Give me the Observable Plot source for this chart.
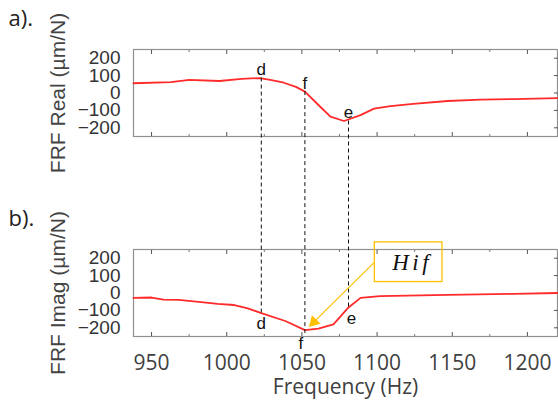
<!DOCTYPE html>
<html><head><meta charset="utf-8">
<script src="https://cdn.jsdelivr.net/npm/d3@7"></script>
<script src="https://cdn.jsdelivr.net/npm/@observablehq/plot@0.6"></script>
<style>
html,body{margin:0;padding:0;background:#fff}
#chart{width:558px;height:405px;overflow:hidden}
</style>
</head><body><div id="chart"></div>
<script>
// ---- data ----
const xDomain = [938, 1220];
const yDomain = [-250, 250];
const xTicks = [950, 1000, 1050, 1100, 1150, 1200];
const xMinorTicks = [975, 1025, 1075, 1125, 1175];
const yTicks = [-200, -100, 0, 100, 200];
const panels = ["a", "b"];
const panelTags = ["a).", "b)."];
const panelTitles = ["FRF Real (µm/N)", "FRF Imag (µm/N)"];
const xTitle = "Frequency (Hz)";

const realFreq = [938, 963, 975, 995, 1010, 1022, 1029, 1038, 1046, 1052, 1061, 1069, 1078, 1089, 1098, 1109, 1124, 1147, 1169, 1191, 1220];
const realVal  = [56, 63, 75, 69, 81, 86, 75, 59, 35, 8, -69, -136, -161, -127, -90, -75, -62, -46, -38, -35, -29];

const imagFreq = [938, 950, 958, 968, 983, 994, 1005, 1014, 1023, 1039, 1052, 1061, 1071, 1081, 1089, 1102, 1147, 1191, 1220];
const imagVal  = [-28, -26, -38, -40, -53, -63, -69, -88, -116, -161, -213, -205, -180, -83, -28, -18, -11, -5, 0];

const markerNames = ["d", "f", "e"];
const markerFreq = [1023, 1052, 1081];
const markerReal = [86, 8, -161];
const markerImag = [-116, -250, -83];

const calloutText = "Hif";
const calloutBoxFreq = [1098.5, 1143.5];
const calloutBoxVal = [63, 291];
const calloutTextAt = [1122, 133];
const arrowFrom = [1097.8, 173];
const arrowTo = [1057.9, -167];

// ---- tables ----
const lineRows = [
  ...realFreq.map((f, i) => ({panel: "a", freq: f, value: realVal[i]})),
  ...imagFreq.map((f, i) => ({panel: "b", freq: f, value: imagVal[i]}))
];
const tagRows = panels.map((p, i) => ({panel: p, tag: panelTags[i], title: panelTitles[i]}));
const topLabels = markerNames.map((n, i) => ({panel: "a", name: n, freq: markerFreq[i], value: markerReal[i]}));
const botLabels = markerNames.map((n, i) => ({panel: "b", name: n, freq: markerFreq[i], value: markerImag[i]}));
const boxRows = [{panel: "b", x1: calloutBoxFreq[0], x2: calloutBoxFreq[1], y1: calloutBoxVal[0], y2: calloutBoxVal[1]}];
const hifRows = [{panel: "b", freq: calloutTextAt[0], value: calloutTextAt[1], text: calloutText}];
const arrowRows = [{panel: "b", x1: arrowFrom[0], y1: arrowFrom[1], x2: arrowTo[0], y2: arrowTo[1]}];

const RED = "#ff2a2a", ORANGE = "#ffc000", GRAY = "#8f8f8f";
const sans = "Liberation Sans, Arial, sans-serif";
const open = "Open Sans, sans-serif";
const midY = (yDomain[0] + yDomain[1]) / 2;

function build(connRows) {
  return Plot.plot({
    width: 558, height: 405,
    marginLeft: 133, marginRight: 1, marginTop: 49, marginBottom: 68,
    style: {background: "#fff", fontFamily: sans, overflow: "visible"},
    x: {domain: xDomain, axis: null},
    y: {domain: yDomain, axis: null},
    fy: {domain: panels, axis: null, paddingInner: 0.5636, paddingOuter: 0},
    marks: [
      Plot.frame({stroke: GRAY, strokeWidth: 1.2}),
      Plot.axisX(xTicks, {anchor: "bottom", tickSize: -4, tickFormat: () => "", stroke: "#555", facetAnchor: null, label: null}),
      Plot.axisX(xTicks, {anchor: "top", tickSize: -4, tickFormat: () => "", stroke: "#555", facetAnchor: null, label: null}),
      Plot.axisX(xMinorTicks, {anchor: "bottom", tickSize: -2, tickFormat: () => "", stroke: "#777", facetAnchor: null, label: null}),
      Plot.axisX(xMinorTicks, {anchor: "top", tickSize: -2, tickFormat: () => "", stroke: "#777", facetAnchor: null, label: null}),
      Plot.axisY(yTicks, {anchor: "right", tickSize: -4, tickFormat: () => "", stroke: "#555", facetAnchor: null, label: null}),
      Plot.axisY(yTicks, {anchor: "left", tickSize: 0, tickPadding: 13, tickFormat: d3.format("d"), fontSize: 19, fontFamily: sans, fill: "#333", facetAnchor: null, label: null}),
      Plot.axisX(xTicks, {anchor: "bottom", tickSize: 0, tickPadding: 19, tickFormat: d3.format("d"), fontSize: 21, fontFamily: open, fill: "#404040", label: null}),
      Plot.line(lineRows, {fy: "panel", x: "freq", y: "value", z: "panel", stroke: RED, strokeWidth: 1.8}),
      connRows ? Plot.ruleX(connRows, {fy: "panel", x: "freq", y1: "y1", y2: "y2", stroke: "#111", strokeWidth: 1, strokeDasharray: "4,3"}) : null,
      Plot.text(topLabels, {fy: "panel", x: "freq", y: "value", text: "name", lineAnchor: "bottom", dy: -3, fontSize: 17, fontFamily: sans, fill: "#111"}),
      Plot.text(botLabels.filter(d => d.name === "d"), {fy: "panel", x: "freq", y: "value", text: "name", lineAnchor: "top", dy: 4, fontSize: 17, fontFamily: sans, fill: "#111"}),
      Plot.text(botLabels.filter(d => d.name === "f"), {fy: "panel", x: "freq", y: "value", text: "name", lineAnchor: "top", dx: -4, dy: 0, fontSize: 17, fontFamily: sans, fill: "#111"}),
      Plot.text(botLabels.filter(d => d.name === "e"), {fy: "panel", x: "freq", y: "value", text: "name", lineAnchor: "top", dx: 3, dy: 4, fontSize: 17, fontFamily: sans, fill: "#111"}),
      Plot.text(tagRows, {fy: "panel", x: xDomain[0], y: midY, text: "title", rotate: -90, dx: -69, lineAnchor: "bottom", textAnchor: "middle", fontSize: 21, fontFamily: sans, fill: "#444"}),
      Plot.text(tagRows, {fy: "panel", text: "tag", frameAnchor: "top-left", dx: -125, dy: -24, textAnchor: "start", lineAnchor: "bottom", fontSize: 22, fontFamily: open, fill: "#222"}),
      Plot.text([{panel: "b", t: xTitle}], {fy: "panel", text: "t", frameAnchor: "bottom", dy: 57, lineAnchor: "bottom", fontSize: 21, fontFamily: open, fill: "#404040"}),
      Plot.rect(boxRows, {fy: "panel", x1: "x1", x2: "x2", y1: "y1", y2: "y2", fill: "none", stroke: ORANGE, strokeWidth: 1.3}),
      Plot.text(hifRows, {fy: "panel", x: "freq", y: "value", text: "text", lineAnchor: "bottom", fontSize: 23, fontStyle: "italic", fontFamily: "Liberation Serif, DejaVu Serif, serif", fill: "#111"}),
      Plot.link(arrowRows, {fy: "panel", x1: "x1", y1: "y1", x2: "x2", y2: "y2", stroke: ORANGE, strokeWidth: 1.2}),
      Plot.dot(arrowRows, {fy: "panel", x: "x2", y: "y2", symbol: "triangle", r: 4.5, rotate: 225, fill: ORANGE, stroke: "none"})
    ].filter(Boolean)
  });
}

// first pass: read the scales to carry connector ends from the lower panel into the upper one
const probe = build(null);
const ys = probe.scale("y"), fys = probe.scale("fy");
const shift = fys.apply("b") - fys.apply("a");
const connRows = markerNames.map((n, i) => ({
  panel: "a", name: n, freq: markerFreq[i],
  y1: markerReal[i],
  y2: ys.invert(ys.apply(markerImag[i]) + shift)
}));
const chart = build(connRows);
d3.select(chart).selectAll("text").filter(function () { return this.textContent === calloutText; })
  .attr("letter-spacing", "3.5px").attr("dx", "2");
document.getElementById("chart").appendChild(chart);
</script>
</body></html>
